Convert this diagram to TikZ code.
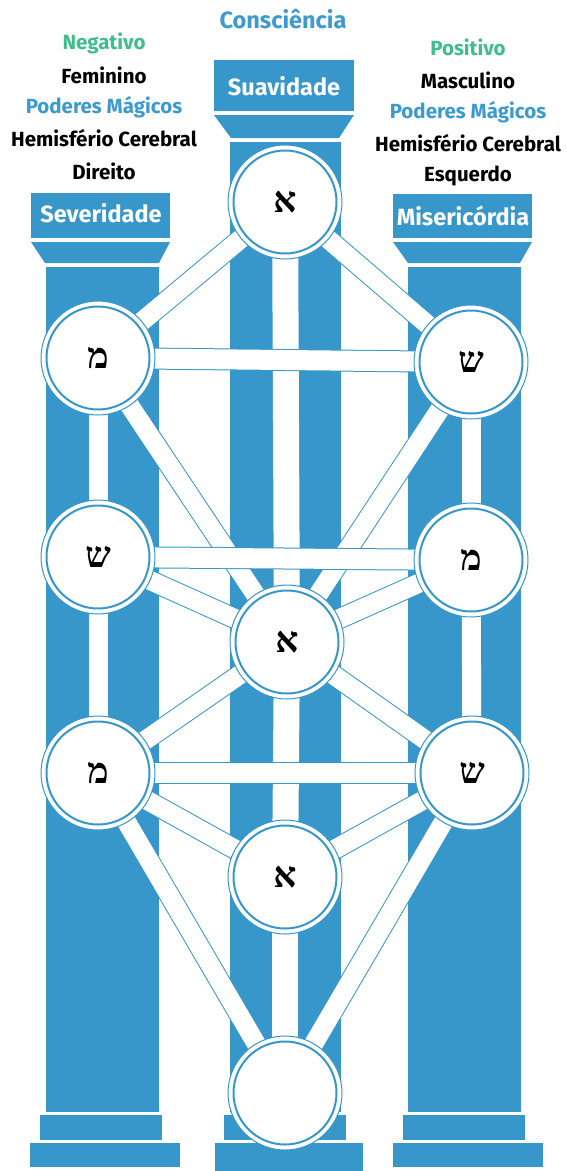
\documentclass[tikz,border=0pt]{standalone}
\usepackage{fontspec}
\setmainfont{Fira Sans}
\newfontfamily\hebfont[Script=Hebrew]{Liberation Serif}
\definecolor{pil}{HTML}{3797CB}
\definecolor{grn}{HTML}{3DBE8B}
\definecolor{lbl}{HTML}{3D9AD0}
\pgfdeclarelayer{pillars}
\pgfdeclarelayer{bands}
\pgfsetlayers{pillars,bands,main}
\tikzset{
  pillarpart/.style={fill=pil, draw=none},
  sefira/.style={circle, minimum size=114pt, inner sep=0pt, outer sep=0pt, fill=white,
    draw=pil, line width=1pt,
    path picture={\draw[pil, line width=2pt] (path picture bounding box.center) circle[radius=51.5pt];},
    font=\hebfont\bfseries\fontsize{36}{36}\selectfont},
  txt/.style={font=\bfseries\fontsize{20.5}{20.5}\selectfont, inner sep=0pt},
  boxlabel/.style={font=\bfseries\fontsize{23.5}{23.5}\selectfont, text=white, inner sep=0pt},
}
\newcommand{\band}[3]{%
  \draw[pil, line width=#3pt+2pt] (#1.center) -- (#2.center);
  \draw[white, line width=#3pt] (#1.center) -- (#2.center);}
\begin{document}
\begin{tikzpicture}[x=1pt,y=-1pt]
\useasboundingbox (0,0) rectangle (566,1171);
% pillars
\begin{pgfonlayer}{pillars}
% left
\fill[pillarpart] (31,193) rectangle (170,238);
\fill[pillarpart] (31,242) -- (170,242) -- (159,263) -- (45,263) -- cycle;
\fill[pillarpart] (46,267) rectangle (159,1112);
\fill[pillarpart] (40,1115) rectangle (162,1140);
\fill[pillarpart] (30,1143) rectangle (180,1167);
% center
\fill[pillarpart] (214,60) rectangle (354,111);
\fill[pillarpart] (214,115) -- (354,115) -- (339,138) -- (231,138) -- cycle;
\fill[pillarpart] (230,142) rectangle (341,1112);
\fill[pillarpart] (224,1115) rectangle (346,1140);
\fill[pillarpart] (215,1143) rectangle (363,1175);
% right
\fill[pillarpart] (393,194) rectangle (532,238);
\fill[pillarpart] (393,242) -- (532,242) -- (520,263) -- (408,263) -- cycle;
\fill[pillarpart] (408,267) rectangle (521,1112);
\fill[pillarpart] (403,1115) rectangle (525,1140);
\fill[pillarpart] (393,1143) rectangle (543,1167);
\end{pgfonlayer}
% labels
\node[boxlabel] (suav) at (284,86) {Suavidade};
\node[boxlabel] (sev) at (101,213) {Severidade};
\node[boxlabel] (mis) at (463,216) {Misericórdia};
\node[txt, text=lbl, font=\bfseries\fontsize{23.5}{23.5}\selectfont] (cons) at (283,19) {Consciência};
\node[txt, text=grn] (neg) at (104,43) {Negativo};
\node[txt] (fem) at (104,75) {Feminino};
\node[txt, text=lbl] (pml) at (104,107) {Poderes Mágicos};
\node[txt] (hcl) at (104,138) {Hemisfério Cerebral};
\node[txt] (dir) at (104,171) {Direito};
\node[txt, text=grn] (pos) at (468,47) {Positivo};
\node[txt] (mas) at (468,80) {Masculino};
\node[txt, text=lbl] (pmr) at (468,112) {Poderes Mágicos};
\node[txt] (hcr) at (468,143) {Hemisfério Cerebral};
\node[txt] (esq) at (468,176) {Esquerdo};
% sefirot
\node[sefira] (K) at (285,202) {א};
\node[sefira] (L1) at (98,358) {מ};
\node[sefira] (R1) at (471,362) {ש};
\node[sefira] (L2) at (98,557) {ש};
\node[sefira] (R2) at (471,560) {מ};
\node[sefira] (C) at (287,642) {א};
\node[sefira] (L3) at (98,773) {מ};
\node[sefira] (R3) at (472,773) {ש};
\node[sefira] (Y) at (285,877) {א};
\node[sefira] (M) at (285,1093) {};
% paths
\begin{pgfonlayer}{bands}
\band{K}{L1}{19}
\band{K}{R1}{19}
\band{L1}{C}{19}
\band{R1}{C}{19}
\band{L2}{C}{19}
\band{R2}{C}{19}
\band{C}{L3}{19}
\band{C}{R3}{19}
\band{L3}{Y}{19}
\band{R3}{Y}{19}
\band{L3}{M}{19}
\band{R3}{M}{19}
\band{L1}{L2}{19}
\band{L2}{L3}{19}
\band{R1}{R2}{19}
\band{R2}{R3}{19}
\band{K}{C}{26}
\band{C}{Y}{26}
\band{Y}{M}{26}
\band{L1}{R1}{20}
\band{L2}{R2}{20}
\band{L3}{R3}{20}
\end{pgfonlayer}
\end{tikzpicture}
\end{document}
